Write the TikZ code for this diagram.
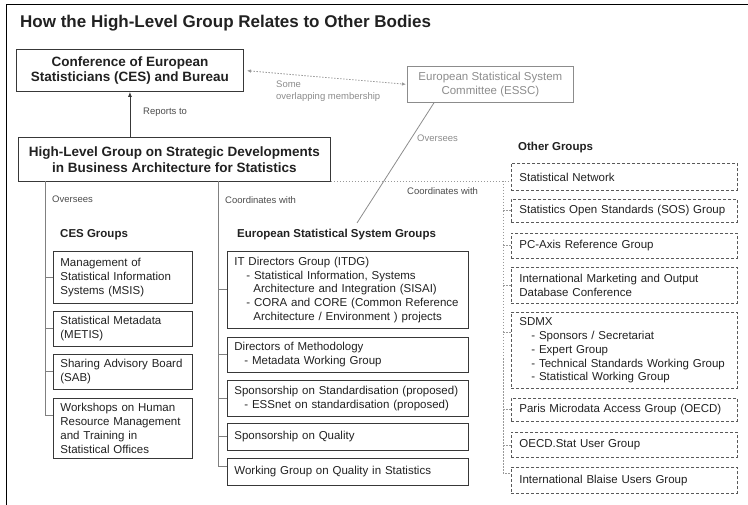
\documentclass[tikz,border=0pt]{standalone}
\usepackage{fontspec}
\setmainfont{Liberation Sans}
\usepackage{tikz}
\usetikzlibrary{arrows.meta}

\definecolor{boxgray}{gray}{0.22}
\definecolor{linegray}{gray}{0.5}
\definecolor{dotgray}{gray}{0.6}
\definecolor{essgray}{gray}{0.55}
\definecolor{textdark}{gray}{0.13}

\tikzset{
  topbox/.style={draw=boxgray, line width=0.9pt, align=center, inner sep=0pt,
    font=\fontsize{13.5}{15.5}\selectfont\bfseries, text=textdark, anchor=north west},
  grpbox/.style={draw=boxgray, line width=0.8pt, align=left, inner xsep=7pt, inner ysep=0pt,
    font=\fontsize{11.5}{13.8}\selectfont, text=textdark, anchor=north west},
  othbox/.style={grpbox, inner xsep=8pt, draw=black!65, dash pattern=on 3pt off 2pt},
  smalllabel/.style={font=\fontsize{9.5}{12}\selectfont, text=black!70, anchor=west, align=left, inner sep=0pt},
  headlabel/.style={font=\fontsize{11.5}{13.8}\selectfont\bfseries, text=textdark, anchor=west, inner sep=0pt},
  spine/.style={draw=linegray, line width=0.8pt},
  dotline/.style={draw=dotgray, line width=0.8pt, dash pattern=on 1.5pt off 1.5pt},
}

\begin{document}
\begin{tikzpicture}[x=1pt, y=-1pt]
  \useasboundingbox (0,0) rectangle (748,505);
  % frame
  \draw[line width=1pt] (6,505) -- (6,5) -- (748,5);

  \node[anchor=west, inner sep=0pt, font=\fontsize{17}{20}\selectfont\bfseries, text=textdark] (title) at (20,23)
    {How the High-Level Group Relates to Other Bodies};

  % top level bodies
  \node[topbox, minimum width=227, minimum height=42] (ces) at (16,49)
    {Conference of European\\Statisticians (CES) and Bureau};
  \node[topbox, minimum width=312, minimum height=44] (hlg) at (18,137)
    {High-Level Group on Strategic Developments\\in Business Architecture for Statistics};
  \node[grpbox, align=center, draw=essgray, text=essgray, inner xsep=0pt, minimum width=166, minimum height=36] (essc) at (407,66)
    {European Statistical System\\Committee (ESSC)};

  \draw[boxgray, line width=0.8pt, -{Latex[length=5pt,width=4pt]}] (hlg.north -| ces.south) -- (ces.south);
  \node[smalllabel] (reports) at (143,112) {Reports to};

  \draw[dotline, {Latex[length=4pt,width=3.5pt]}-{Latex[length=4pt,width=3.5pt]}, shorten <=3pt, shorten >=1pt] (ces.east) -- (essc.west);
  \node[smalllabel, text=essgray] (overlap) at (276,91) {Some\\overlapping membership};

  \coordinate (essend) at (357,223);
  \draw[essgray, line width=0.8pt] ([xshift=27pt]essc.south west) -- (essend);
  \node[smalllabel, text=essgray] (essover) at (417,138) {Oversees};

  % CES groups
  \node[smalllabel] (cesover) at (52,199) {Oversees};
  \node[headlabel] (cesh) at (60,235) {CES Groups};
  \node[grpbox, text width=125, minimum height=52] (msis) at (53,251)
    {Management of\\Statistical Information\\Systems (MSIS)};
  \node[grpbox, text width=125, minimum height=35] (metis) at (53,311)
    {Statistical Metadata\\(METIS)};
  \node[grpbox, text width=125, minimum height=35] (sab) at (53,354)
    {Sharing Advisory Board\\(SAB)};
  \node[grpbox, text width=125, minimum height=60] (ws) at (53,398)
    {Workshops on Human\\Resource Management\\and Training in\\Statistical Offices};

  \coordinate (cesspine) at (45,181);
  \draw[spine] (cesspine) |- ([yshift=-17pt]ws.north west);
  \foreach \b in {msis,metis,sab}
    \draw[spine] (cesspine |- \b.west) -- (\b.west);

  % European Statistical System groups
  \node[smalllabel] (esscoord) at (225,200) {Coordinates with};
  \node[headlabel] (essh) at (237,235) {European Statistical System Groups};
  \node[grpbox, text width=227, minimum height=77] (itdg) at (227,251)
    {IT Directors Group (ITDG)\\
     \hspace*{12pt}- Statistical Information, Systems\\
     \hspace*{19pt}Architecture and Integration (SISAI)\\
     \hspace*{12pt}- CORA and CORE (Common Reference\\
     \hspace*{19pt}Architecture / Environment ) projects};
  \node[grpbox, text width=227, minimum height=35] (dom) at (227,337)
    {Directors of Methodology\\\hspace*{10pt}- Metadata Working Group};
  \node[grpbox, text width=227, minimum height=36] (spstd) at (227,380)
    {Sponsorship on Standardisation (proposed)\\\hspace*{10pt}- ESSnet on standardisation (proposed)};
  \node[grpbox, text width=227, minimum height=27] (spq) at (227,423)
    {Sponsorship on Quality};
  \node[grpbox, text width=227, minimum height=27] (wgq) at (227,458)
    {Working Group on Quality in Statistics};

  \coordinate (essspine) at (218,181);
  \draw[spine] (essspine) |- ([yshift=-8pt]wgq.north west);
  \foreach \b in {itdg,dom,spstd,spq}
    \draw[spine] (essspine |- \b.west) -- (\b.west);

  % other groups
  \node[headlabel] (othh) at (518,148) {Other Groups};
  \node[othbox, text width=210, minimum height=27] (statnet) at (511,163)
    {Statistical Network};
  \node[othbox, text width=210, minimum height=23] (sosg) at (511,199)
    {Statistics Open Standards (SOS) Group};
  \node[othbox, text width=210, minimum height=25] (pcaxis) at (511,233)
    {PC-Axis Reference Group};
  \node[othbox, text width=210, minimum height=36] (imodc) at (511,267)
    {International Marketing and Output\\Database Conference};
  \node[othbox, text width=210, minimum height=76] (sdmx) at (511,312)
    {SDMX\\
     \hspace*{12pt}- Sponsors / Secretariat\\
     \hspace*{12pt}- Expert Group\\
     \hspace*{12pt}- Technical Standards Working Group\\
     \hspace*{12pt}- Statistical Working Group};
  \node[othbox, text width=210, minimum height=23] (paris) at (511,398)
    {Paris Microdata Access Group (OECD)};
  \node[othbox, text width=210, minimum height=25] (oecdstat) at (511,432)
    {OECD.Stat User Group};
  \node[othbox, text width=210, minimum height=26] (blaise) at (511,467)
    {International Blaise Users Group};

  \node[smalllabel] (othcoord) at (407,191) {Coordinates with};
  \draw[dotline] (hlg.south east) -- (hlg.south east -| statnet.west);
  \coordinate (othspine) at (503,181);
  \coordinate (sdmxin) at ([yshift=-20pt]sdmx.north west);
  \draw[dotline] (othspine) |- ([yshift=-6pt]blaise.north west);
  \foreach \p in {sosg.west,pcaxis.west,imodc.west,sdmxin,paris.west,oecdstat.west}
    \draw[dotline] (othspine |- \p) -- (\p);
\end{tikzpicture}
\end{document}
